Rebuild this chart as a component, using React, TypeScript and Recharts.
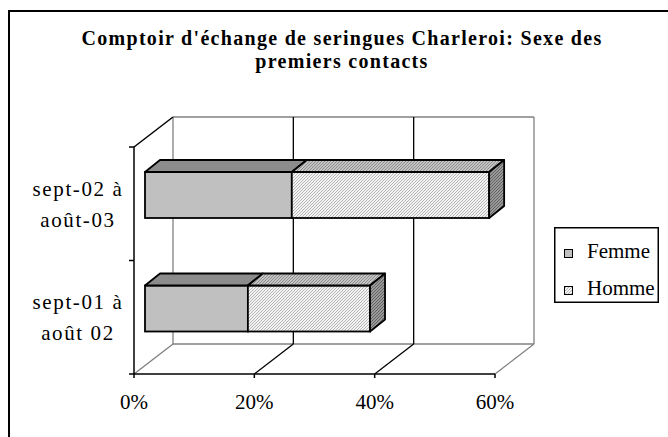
import React from "react";
import { BarChart, Bar, XAxis, YAxis, CartesianGrid, Legend } from "recharts";

const categories = ["sept-02 à\naoût-03", "sept-01 à\naoût 02"];
const femmeValues = [0.244, 0.171];
const hommeValues = [0.328, 0.203];
const xTicks = [0, 0.2, 0.4, 0.6];
const titleLines = [
  "Comptoir d'échange de seringues Charleroi: Sexe des",
  "premiers contacts",
];

const data = categories.map((periode, i) => ({
  periode,
  femme: femmeValues[i],
  homme: hommeValues[i],
}));

const FONT = '"Liberation Serif", "Times New Roman", serif';
const GREY = "#808080";
// fake 3D: offset of the back wall and of the bars, in px
const WALL_DX = 39;
const WALL_DY = 30;
const BAR_DX = 11;
const BAR_DY = 9;
const DEPTH_DX = 15;
const DEPTH_DY = 12;

function GridLine(props: any) {
  const { x1, y1, y2, index } = props;
  const pts: number[] = props.verticalPoints || [];
  const right = pts.length ? pts[pts.length - 1] : props.x + props.width;
  const edge = index === 0 || Math.abs(x1 - right) < 0.5;
  const bx = x1 + WALL_DX;
  const top = y1 - WALL_DY;
  const bottom = y2 - WALL_DY;
  const color = edge ? GREY : "#000";
  const band = (y2 - y1) / categories.length;
  return (
    <g key={props.key}>
      <line x1={bx} y1={top} x2={bx} y2={bottom} stroke={color} strokeWidth={1.3} />
      <line x1={x1} y1={y2} x2={bx} y2={bottom} stroke={color} strokeWidth={1.3} />
      {index === 0 && (
        <g>
          <line x1={bx} y1={top} x2={right + WALL_DX} y2={top} stroke={GREY} strokeWidth={1.3} />
          <line x1={bx} y1={bottom} x2={right + WALL_DX} y2={bottom} stroke={GREY} strokeWidth={1.3} />
          <line x1={x1} y1={y1} x2={bx} y2={top} stroke="#000" strokeWidth={1.5} />
          {[...categories, ""].map((_, k) => (
            <line key={k} x1={x1 - 5} y1={y1 + k * band} x2={x1} y2={y1 + k * band} stroke="#000" strokeWidth={1.5} />
          ))}
        </g>
      )}
    </g>
  );
}

function Box3D(props: any) {
  const { x, y, width, height, fill, topFill, sideFill, withSide } = props;
  if (!width || width <= 0) return null;
  const fx = x + BAR_DX;
  const fy = y - BAR_DY;
  const topPath = `M${fx},${fy} L${fx + DEPTH_DX},${fy - DEPTH_DY} L${fx + width + DEPTH_DX},${fy - DEPTH_DY} L${fx + width},${fy} Z`;
  const sidePath = `M${fx + width},${fy} L${fx + width + DEPTH_DX},${fy - DEPTH_DY} L${fx + width + DEPTH_DX},${fy + height - DEPTH_DY} L${fx + width},${fy + height} Z`;
  return (
    <g>
      <rect x={fx} y={fy} width={width} height={height} fill={fill} stroke="#000" strokeWidth={1.8} />
      <path d={topPath} fill={topFill} stroke="#000" strokeWidth={1.8} strokeLinejoin="round" />
      {withSide && <path d={sidePath} fill={sideFill} stroke="#000" strokeWidth={1.8} strokeLinejoin="round" />}
    </g>
  );
}

function PeriodTick(props: any) {
  const { x, y, payload } = props;
  const lines = String(payload.value).split("\n");
  const cx = x - 56;
  return (
    <text x={cx} y={y} textAnchor="middle" fontFamily={FONT} fontSize={21} fill="#000" letterSpacing={1.6}>
      {lines.map((l, i) => (
        <tspan key={i} x={cx} y={y - 8 + i * 31}>
          {l}
        </tspan>
      ))}
    </text>
  );
}

function LegendBox(props: any) {
  const items = props.payload || [];
  return (
    <svg width={105} height={76} style={{ display: "block" }}>
      <rect x={0.75} y={0.75} width={103.5} height={74.5} fill="#fff" stroke="#000" strokeWidth={1.5} />
      {items.map((it: any, i: number) => (
        <g key={it.value}>
          <rect x={10.5} y={22.5 + i * 37} width={8} height={8} fill={it.color} stroke="#000" />
          <text x={33} y={31 + i * 37} fontFamily={FONT} fontSize={21} fill="#000">
            {it.value}
          </text>
        </g>
      ))}
    </svg>
  );
}

export default function App() {
  return (
    <div style={{ position: "absolute", left: 0, top: 0, width: 668, height: 437, overflow: "hidden", background: "#fff" }}>
      <svg width={0} height={0} style={{ position: "absolute" }}>
        <defs>
          <pattern id="hommeFront" width={3} height={3} patternUnits="userSpaceOnUse">
            <rect width={3} height={3} fill="#f2f2f2" />
            <path d="M0,3 L3,0 M-1,1 L1,-1 M2,4 L4,2" stroke="#b0b0b0" strokeWidth={0.9} />
          </pattern>
          <pattern id="hommeTop" width={3} height={3} patternUnits="userSpaceOnUse">
            <rect width={3} height={3} fill="#c4c4c4" />
            <path d="M0,3 L3,0 M-1,1 L1,-1 M2,4 L4,2" stroke="#888" strokeWidth={0.9} />
          </pattern>
          <pattern id="hommeSide" width={3} height={3} patternUnits="userSpaceOnUse">
            <rect width={3} height={3} fill="#9a9a9a" />
            <path d="M0,3 L3,0 M-1,1 L1,-1 M2,4 L4,2" stroke="#5a5a5a" strokeWidth={0.9} />
          </pattern>
        </defs>
      </svg>
      <div style={{ position: "absolute", left: 8, top: 10, width: 720, height: 520, borderTop: "2px solid #000", borderLeft: "2px solid #000" }} />
      <div style={{ position: "absolute", left: 0, top: 0 }}>
        <BarChart
          width={668}
          height={437}
          data={data}
          layout="vertical"
          margin={{ top: 147, right: 173, bottom: 33, left: 14 }}
        >
          <CartesianGrid horizontal={false} vertical={GridLine} />
          <XAxis
            type="number"
            domain={[0, 0.6]}
            ticks={xTicks}
            tickFormatter={(v: number) => `${Math.round(v * 100)}%`}
            axisLine={{ stroke: "#000", strokeWidth: 1.5 }}
            tickLine={{ stroke: "#000", strokeWidth: 1.5 }}
            tickSize={4}
            tickMargin={16}
            tick={{ fontFamily: FONT, fontSize: 21, fill: "#000" }}
            height={30}
          />
          <YAxis
            type="category"
            dataKey="periode"
            width={120}
            axisLine={{ stroke: "#000", strokeWidth: 1.5 }}
            tickLine={false}
            tickSize={0}
            tickMargin={0}
            tick={PeriodTick}
          />
          <Legend
            layout="vertical"
            align="center"
            verticalAlign="middle"
            wrapperStyle={{ left: 554, top: 227, width: 105, height: 76 }}
            content={LegendBox}
          />
          <Bar
            dataKey="femme"
            name="Femme"
            stackId="a"
            fill="#c0c0c0"
            barSize={46}
            isAnimationActive={false}
            shape={(p: any) => <Box3D {...p} topFill="#8c8c8c" />}
          />
          <Bar
            dataKey="homme"
            name="Homme"
            stackId="a"
            fill="url(#hommeFront)"
            barSize={46}
            isAnimationActive={false}
            shape={(p: any) => <Box3D {...p} topFill="url(#hommeTop)" sideFill="url(#hommeSide)" withSide />}
          />
        </BarChart>
      </div>
      <svg width={668} height={437} style={{ position: "absolute", left: 0, top: 0, pointerEvents: "none" }}>
        {titleLines.map((t, i) => (
          <text key={i} x={342} y={45 + i * 23} textAnchor="middle" fontFamily={FONT} fontWeight="bold" fontSize={20} letterSpacing={1.3} fill="#000">
            {t}
          </text>
        ))}
      </svg>
    </div>
  );
}
